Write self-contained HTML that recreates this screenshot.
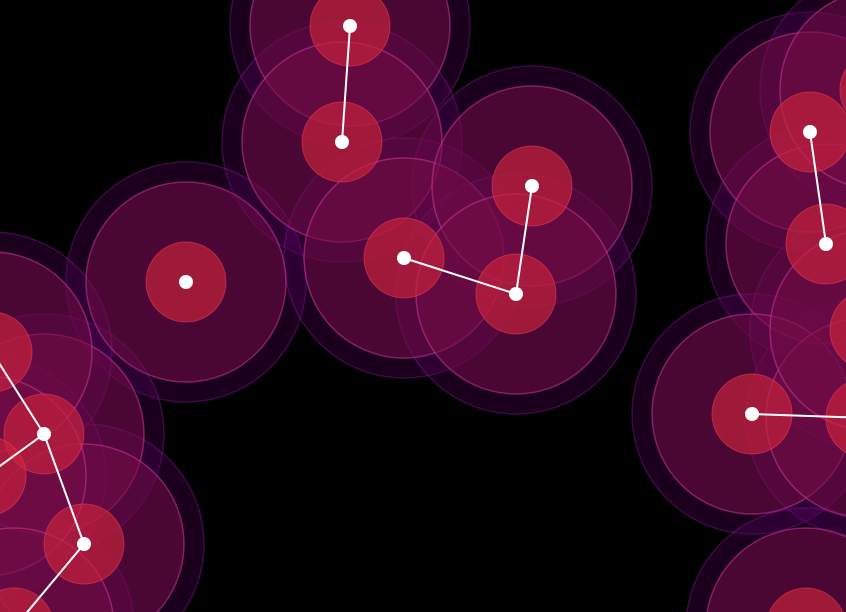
<!DOCTYPE html>
<html><head><meta charset="utf-8"><style>
html,body{margin:0;padding:0;background:#000;width:846px;height:612px;overflow:hidden}
svg{display:block;overflow:hidden}
</style></head><body>
<svg id="chart" width="846" height="612" viewBox="0 0 846 612"></svg>
<script>
const nodeX = [350,342,186,404,532,516,810,826,752,866,44,84,-8,-14,14,806,880,870];
const nodeY = [26,142,282,258,186,294,132,244,414,418,434,544,352,476,628,628,90,330];
const linkSource = [0,3,4,6,8,10,10,10,11];
const linkTarget = [1,5,5,7,9,12,13,11,14];
const ns="http://www.w3.org/2000/svg";
const svg=document.getElementById('chart');
function mk(t,a){const e=document.createElementNS(ns,t);for(const k in a)e.setAttribute(k,a[k]);return e;}
const gH=mk('g',{});


svg.appendChild(gH);
const gL=mk('g',{});


const gN=mk('g',{});


for(let i=0;i<nodeX.length;i++){
  const o=mk('circle',{cx:nodeX[i],cy:nodeY[i],r:120,fill:'rgba(90,0,100,0.3)',stroke:'rgba(150,30,170,0.35)','stroke-width':1.5});
  
  
  gH.appendChild(o);
}
for(let i=0;i<nodeX.length;i++){
  const c=mk('circle',{cx:nodeX[i],cy:nodeY[i],r:100,fill:'rgba(115,12,70,0.55)',stroke:'rgba(210,60,160,0.5)','stroke-width':1.5});
  
  
  gH.appendChild(c);
}
for(let i=0;i<nodeX.length;i++){
  const c=mk('circle',{cx:nodeX[i],cy:nodeY[i],r:40,fill:'rgba(205,35,60,0.65)',stroke:'rgba(235,60,95,0.55)','stroke-width':1});
  
  
  gH.appendChild(c);
}
svg.appendChild(gL);
svg.appendChild(gN);
for(let k=0;k<linkSource.length;k++){
  const s=linkSource[k],t=linkTarget[k];
  const l=mk('line',{x1:nodeX[s],y1:nodeY[s],x2:nodeX[t],y2:nodeY[t],stroke:'#fff','stroke-width':2});
  
  
  gL.appendChild(l);
}
for(let i=0;i<nodeX.length;i++){
  const d=mk('circle',{cx:nodeX[i],cy:nodeY[i],r:7,fill:'#fff'});
  
  
  gN.appendChild(d);
}
</script>
</body></html>
